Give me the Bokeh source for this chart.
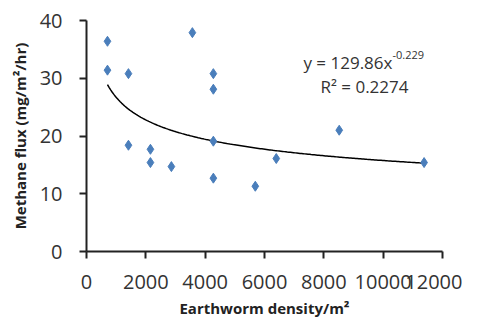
import numpy as np
from bokeh.plotting import figure
from bokeh.models import FixedTicker, Label
from bokeh.embed import file_html
from bokeh.resources import INLINE

# Data
density = [707, 707, 1414, 1414, 2155, 2155, 2862, 3569, 4276, 4276, 4276, 4276, 5690, 6397, 8519, 11380]
flux = [36.4, 31.4, 30.8, 18.4, 17.7, 15.4, 14.7, 37.9, 30.8, 28.1, 19.1, 12.7, 11.3, 16.1, 21.0, 15.4]

# Power trendline shown on the chart: y = 129.86 x^-0.229
coef_a = 129.86
coef_b = -0.229
x_ticks = [0, 2000, 4000, 6000, 8000, 10000, 12000]
y_ticks = [0, 10, 20, 30, 40]

FONT = "Open Sans"

p = figure(frame_width=356, frame_height=231, output_backend="svg", toolbar_location=None,
           x_range=(0, 12000), y_range=(0, 40),
           min_border_left=86, min_border_right=20, min_border_top=20, min_border_bottom=60)
p.outline_line_color = None
p.xgrid.visible = False
p.ygrid.visible = False
p.background_fill_color = "white"
p.border_fill_color = "white"

trend_x = np.linspace(min(density), max(density), 200)
trend_y = coef_a * trend_x ** coef_b
p.line(trend_x, trend_y, line_color="black", line_width=1.5)

p.scatter(density, flux, marker="diamond", size=10, fill_color="#4a7ebb", line_color="#4a7ebb")

for ax in (p.xaxis[0], p.yaxis[0]):
    ax.axis_line_color = "#222222"
    ax.axis_line_width = 2
    ax.major_tick_line_color = "#222222"
    ax.major_tick_line_width = 2
    ax.major_tick_out = 7
    ax.major_tick_in = 0
    ax.minor_tick_line_color = None
    ax.major_label_text_font = FONT
    ax.major_label_text_font_size = "20px"
    ax.major_label_text_color = "#333333"
    ax.axis_label_text_font = FONT
    ax.axis_label_text_font_size = "15px"
    ax.axis_label_text_font_style = "bold"
    ax.axis_label_text_color = "#222222"

p.xaxis.ticker = FixedTicker(ticks=x_ticks)
p.yaxis.ticker = FixedTicker(ticks=y_ticks)
p.xaxis.major_label_standoff = 16
p.yaxis.major_label_standoff = 17
p.xaxis.axis_label = "Earthworm density/m²"
p.yaxis.axis_label = "Methane flux (mg/m²/hr)"
p.xaxis.axis_label_standoff = 6
p.yaxis.axis_label_standoff = 7

eq_color = "#333333"
p.add_layout(Label(x=10313, y=32.8, text="y = 129.86x", text_align="right", text_baseline="alphabetic",
                   text_font=FONT, text_font_size="17px", text_color=eq_color))
p.add_layout(Label(x=10313, y=34.0, text="-0.229", text_align="left", text_baseline="alphabetic",
                   text_font=FONT, text_font_size="11px", text_color=eq_color))
p.add_layout(Label(x=9370, y=28.6, text="R² = 0.2274", text_align="center", text_baseline="alphabetic",
                   text_font=FONT, text_font_size="17px", text_color=eq_color))

open("out.html", "w").write(file_html(p, INLINE))
